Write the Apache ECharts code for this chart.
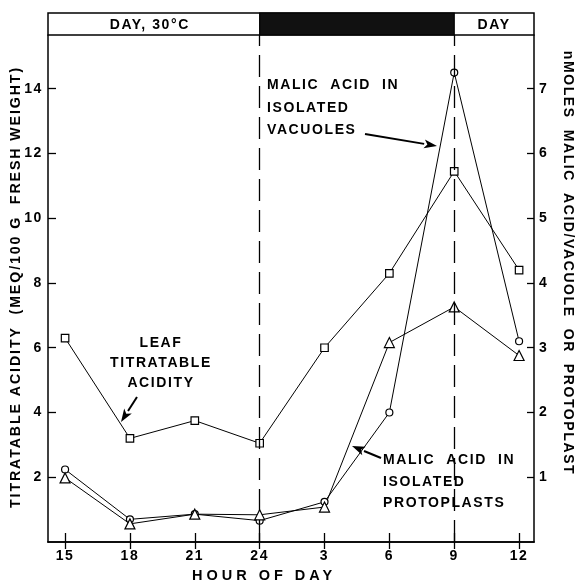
<!DOCTYPE html>
<html><head><meta charset="utf-8">
<script src="https://cdn.jsdelivr.net/npm/echarts@6/dist/echarts.min.js"></script>
<style>html,body{margin:0;padding:0;background:#fff}#c{width:576px;height:585px}</style>
</head><body><div id="c"></div>
<script>
// wide letter tracking like the typewriter-style reference lettering
(function(){
  var P = CanvasRenderingContext2D.prototype;
  if (!('letterSpacing' in P)) return;
  function sp(font){
    if (/14\.5px/.test(font)) return '4px';
    if (/14\.2px/.test(font)) return '1.9px';
    if (/14px/.test(font)) return '1.6px';
    return '1px';
  }
  var ft = P.fillText, mt = P.measureText, st = P.strokeText;
  P.fillText = function(){ this.letterSpacing = sp(this.font); return ft.apply(this, arguments); };
  P.strokeText = function(){ this.letterSpacing = sp(this.font); return st.apply(this, arguments); };
  P.measureText = function(){ this.letterSpacing = sp(this.font); return mt.apply(this, arguments); };
})();

const hours = [15, 18, 21, 24, 27, 30, 33, 36];
const hourLabels = ['15', '18', '21', '24', '3', '6', '9', '12'];
const leafAcidity = [6.3, 3.2, 3.75, 3.05, 6.0, 8.3, 11.45, 8.4];          // MEQ/100 g FW (left axis)
const vacuoleMalic = [1.12, 0.35, 0.43, 0.33, 0.62, 2.0, 7.25, 3.1];       // nmoles/vacuole (right axis)
const protoplastMalic = [0.99, 0.28, 0.43, 0.42, 0.54, 3.08, 3.63, 2.88];  // nmoles/protoplast (right axis)
const leftTicks = [2, 4, 6, 8, 10, 12, 14];
const rightTicks = [1, 2, 3, 4, 5, 6, 7];
const periodEdges = [24, 33];
const periodLabels = ['DAY, 30°C', '', 'DAY'];

const X_MIN = 14.21, X_MAX = 36.69, Y_MAX = 15.66;
const FONT = 'Liberation Sans';
const el = document.getElementById('c');
const chart = echarts.init(el, null, {renderer: 'canvas'});

function pairs(vals){ return hours.map((h, i) => [h, vals[i]]); }
const black = '#000';
const axisCommon = {
  axisLine: {show: true, lineStyle: {color: black, width: 1.5}},
  splitLine: {show: false}
};
function series(name, vals, sym, size, yIdx, extra){
  return Object.assign({
    name, type: 'line', data: pairs(vals), xAxisIndex: 0, yAxisIndex: yIdx,
    symbol: sym, symbolSize: size, showAllSymbol: true,
    itemStyle: {color: '#fff', borderColor: black, borderWidth: 1.2},
    lineStyle: {color: black, width: 1},
    emphasis: {disabled: true}, silent: true, z: 3
  }, extra || {});
}

chart.setOption({
  animation: false,
  backgroundColor: '#fff',
  textStyle: {fontFamily: FONT},
  grid: {left: 48, right: 42, top: 35, bottom: 43, containLabel: false},
  xAxis: [
    Object.assign({type: 'value', min: X_MIN, max: X_MAX, position: 'bottom',
      axisTick: {inside: true, length: 9, customValues: hours, lineStyle: {color: black, width: 1.3}},
      axisLabel: {customValues: hours, formatter: v => hourLabels[hours.indexOf(v)],
        color: black, fontSize: 14, fontWeight: 'bold', fontFamily: FONT, margin: 6}}, axisCommon),
    Object.assign({type: 'value', min: X_MIN, max: X_MAX, position: 'top',
      axisTick: {inside: true, length: 7, customValues: hours, lineStyle: {color: black, width: 1.3}},
      axisLabel: {show: false}}, axisCommon)
  ],
  yAxis: [
    Object.assign({type: 'value', min: 0, max: Y_MAX, position: 'left',
      axisTick: {inside: true, length: 8, customValues: leftTicks, lineStyle: {color: black, width: 1.3}},
      axisLabel: {customValues: leftTicks, color: black, fontSize: 14, fontWeight: 'bold', fontFamily: FONT, margin: 5}}, axisCommon),
    Object.assign({type: 'value', min: 0, max: Y_MAX / 2, position: 'right',
      axisTick: {inside: true, length: 7, customValues: rightTicks, lineStyle: {color: black, width: 1.3}},
      axisLabel: {customValues: rightTicks, color: black, fontSize: 14, fontWeight: 'bold', fontFamily: FONT, margin: 5}}, axisCommon)
  ],
  series: [
    series('Leaf titratable acidity', leafAcidity, 'rect', 7.5, 0, {
      markLine: {silent: true, symbol: 'none', animation: false,
        label: {show: false},
        lineStyle: {color: black, width: 1.3, type: [22, 9]},
        emphasis: {disabled: true},
        data: periodEdges.map(v => ({xAxis: v}))}
    }),
    series('Malic acid in isolated vacuoles', vacuoleMalic, 'circle', 7, 1),
    series('Malic acid in isolated protoplasts', protoplastMalic, 'triangle', 10, 1)
  ]
});

// top period bar and annotations
const gl = 48, gr = 534, barTop = 13, barBot = 35;
const e1 = chart.convertToPixel({xAxisIndex: 0}, periodEdges[0]);
const e2 = chart.convertToPixel({xAxisIndex: 0}, periodEdges[1]);
const tfont = {fontSize: 14, fontWeight: 'bold', fontFamily: FONT, fill: black};

function txt(x, y, s, align, extra){
  return {type: 'text', x, y, silent: true, z: 20,
    style: Object.assign({text: s, align: align || 'left', verticalAlign: 'middle'}, tfont, extra || {})};
}
function arrow(x1, y1, x2, y2){
  const a = Math.atan2(y2 - y1, x2 - x1), L = 13, W = 4.5;
  const bx = x2 - L * Math.cos(a), by = y2 - L * Math.sin(a);
  const px = -Math.sin(a) * W, py = Math.cos(a) * W;
  return [
    {type: 'line', silent: true, z: 20, shape: {x1, y1, x2: bx, y2: by}, style: {stroke: black, lineWidth: 2}},
    {type: 'polygon', silent: true, z: 20, shape: {points: [[x2, y2], [bx + px, by + py], [bx + L*0.25*Math.cos(a), by + L*0.25*Math.sin(a)], [bx - px, by - py]]}, style: {fill: black}}
  ];
}

const g = [
  {type: 'rect', silent: true, z: 10, shape: {x: gl, y: barTop, width: gr - gl, height: barBot - barTop}, style: {fill: '#fff', stroke: black, lineWidth: 1.5}},
  {type: 'rect', silent: true, z: 11, shape: {x: e1, y: barTop, width: e2 - e1, height: barBot - barTop}, style: {fill: '#111', stroke: black, lineWidth: 1.2}},
  txt((gl + e1) / 2 - 4, (barTop + barBot) / 2 + 1, periodLabels[0], 'center'),
  txt((e2 + gr) / 2, (barTop + barBot) / 2 + 1, periodLabels[2], 'center'),
  // axis names
  txt(16, 287, 'TITRATABLE ACIDITY  (MEQ/100 G  FRESH WEIGHT)', 'center', {fontSize: 14.2}),
  txt(568, 263, 'nMOLES  MALIC  ACID/VACUOLE  OR  PROTOPLAST', 'center', {}),
  {type: 'text', x: 264, y: 576, silent: true, z: 20, style: Object.assign({text: 'HOUR OF DAY', align: 'center', verticalAlign: 'middle'}, tfont, {fontSize: 14.5})},
  // annotations
  txt(267, 85, 'MALIC  ACID  IN'), txt(267, 108, 'ISOLATED'), txt(267, 130, 'VACUOLES'),
  txt(161, 343, 'LEAF', 'center'), txt(161, 363, 'TITRATABLE', 'center'), txt(161, 383, 'ACIDITY', 'center'),
  txt(383, 460, 'MALIC  ACID  IN'), txt(383, 482, 'ISOLATED'), txt(383, 503, 'PROTOPLASTS')
].concat(arrow(365, 134, 437, 146), arrow(137, 397, 121, 422), arrow(381, 458, 352, 446));
g[4].rotation = Math.PI / 2;
g[5].rotation = -Math.PI / 2;
chart.setOption({graphic: g});
</script></body></html>
